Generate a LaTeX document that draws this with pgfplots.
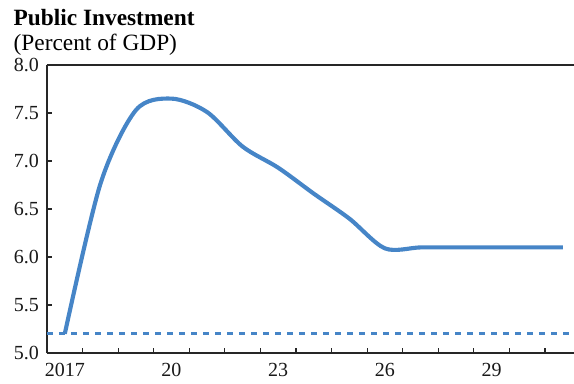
\documentclass[border=0pt]{standalone}
\usepackage{pgfplots}
\pgfplotsset{compat=1.18}
\usepackage{fontspec}
\setmainfont{Liberation Serif}
\definecolor{imfblue}{RGB}{70,133,199}
\begin{document}
\begin{tikzpicture}
\path[use as bounding box] (-35.25pt,-22.5pt) rectangle (395.25pt,264.75pt);
\begin{axis}[
  scale only axis, width=395.25pt, height=216pt,
  anchor=south west, at={(0,0)},
  xmin=2016.5, xmax=2031.316, ymin=5, ymax=8,
  axis x line=box, axis y line=left,
  axis line style={-, line width=0.8pt, black!85},
  tick align=inside, xtick pos=bottom, ytick pos=left,
  tick style={line width=0.8pt, black!85},
  major tick length=3.75pt,
  xtick={2016.5,2017.5,...,2030.5}, xticklabels={},
  extra x ticks={2017,2020,2023,2026,2029},
  extra x tick labels={2017,20,23,26,29},
  extra x tick style={major tick length=0pt},
  ytick={5,5.5,...,8},
  yticklabel style={/pgf/number format/fixed, /pgf/number format/fixed zerofill, /pgf/number format/precision=1, xshift=-2.5pt},
  xticklabel style={yshift=-4pt},
  /pgf/number format/assume math mode=true,
  tick label style={font=\fontsize{15}{18}\selectfont, black!90},
  clip=false,
]
\addplot[imfblue, line width=2.25pt, dash pattern=on 4.5pt off 4.5pt] coordinates {(2016.5,5.2) (2031.316,5.2)};
\addplot[imfblue, line width=3.1pt, smooth, tension=0.5] coordinates {
(2017,5.20) (2018,6.76) (2019,7.53) (2020,7.65) (2021,7.51) (2022,7.15)
(2023,6.93) (2024,6.66) (2025,6.40) (2026,6.09) (2027,6.10) (2028,6.10)
(2029,6.10) (2030,6.10) (2031,6.10)};
\end{axis}
\node[anchor=base west, font=\bfseries\fontsize{17.5}{20}\selectfont] at (-28.5pt,246pt) {Public Investment};
\node[anchor=base west, font=\fontsize{17.5}{20}\selectfont] at (-28.5pt,227.25pt) {(Percent of GDP)};
\end{tikzpicture}
\end{document}
